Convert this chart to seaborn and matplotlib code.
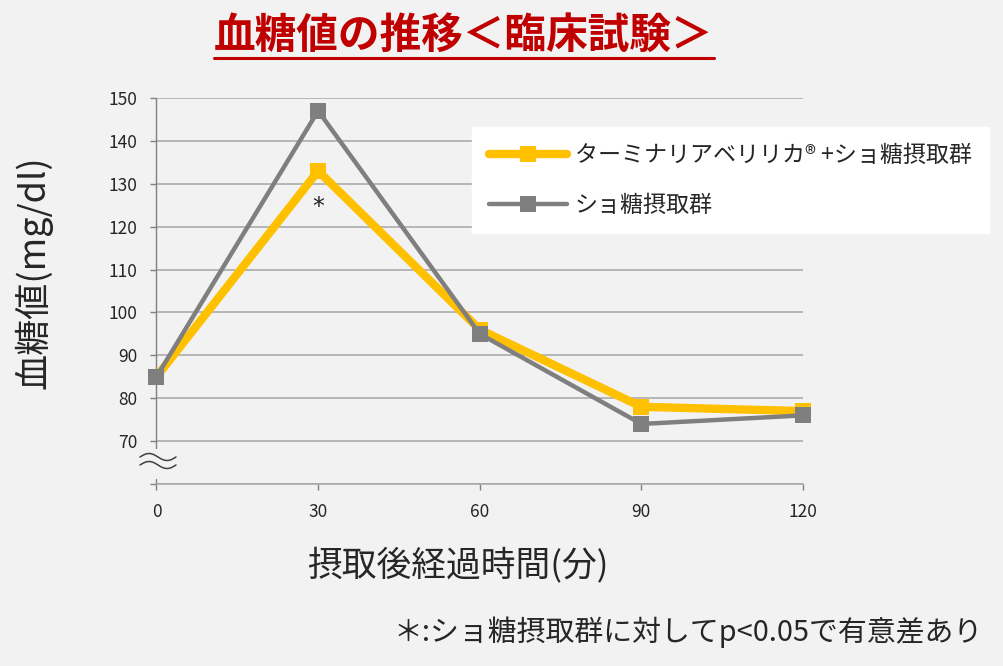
import numpy as np
import pandas as pd
import matplotlib
matplotlib.use("Agg")
import matplotlib.pyplot as plt
from matplotlib.lines import Line2D
import seaborn as sns

# data
times = [0, 30, 60, 90, 120]
terminalia = [85, 133, 96, 78, 77]
sucrose = [85, 147, 95, 74, 76]
yticks = [60, 70, 80, 90, 100, 110, 120, 130, 140, 150]
ytick_labels = ["", "70", "80", "90", "100", "110", "120", "130", "140", "150"]
label_terminalia = "ターミナリアベリリカ® +ショ糖摂取群"
label_sucrose = "ショ糖摂取群"

W, H = 1004, 666
BG = "#f2f2f2"
YELLOW = "#ffc000"
GRAY = "#7f7f7f"

sns.set_style("white")
plt.rcParams["font.family"] = ["Noto Sans CJK JP", "DejaVu Sans"]

fig = plt.figure(figsize=(W / 100, H / 100), dpi=100, facecolor=BG)
x0, x1, y0, y1 = 156.5, 803, 98, 484
ax = fig.add_axes([x0 / W, 1 - y1 / H, (x1 - x0) / W, (y1 - y0) / H])
ax.set_facecolor(BG)

df = pd.DataFrame({"time": times, "terminalia": terminalia, "sucrose": sucrose})
sns.lineplot(data=df, x="time", y="terminalia", ax=ax, color=YELLOW, linewidth=6,
             marker="s", markersize=12, markeredgewidth=0, label=label_terminalia,
             clip_on=False, zorder=3)
sns.lineplot(data=df, x="time", y="sucrose", ax=ax, color=GRAY, linewidth=3.2,
             marker="s", markersize=12, markeredgewidth=0, label=label_sucrose,
             clip_on=False, zorder=4)

ax.set_xlim(0, 120)
ax.set_ylim(60, 150)
ax.set_xticks(times)
ax.set_yticks(yticks)
ax.set_yticklabels(ytick_labels)
ax.set_xlabel("")
ax.set_ylabel("")
ax.grid(axis="y", color="#a6a6a6", linewidth=1.1)
ax.tick_params(axis="both", length=4.5, width=1, color="#808080", labelsize=12.5,
               pad=9, left=True, bottom=True)
for s in ["top", "right", "left"]:
    ax.spines[s].set_visible(False)
ax.spines["bottom"].set_color("#a6a6a6")
ax.spines["bottom"].set_linewidth(1.1)

# left spine with an axis break below 70
ytr = ax.get_yaxis_transform()
ax.add_line(Line2D([0, 0], [68.4, 150], transform=ytr, color="#808080", lw=1,
                   clip_on=False))
ax.add_line(Line2D([0, 0], [60, 61.2], transform=ytr, color="#808080", lw=1,
                   clip_on=False))
xs = np.linspace(140, 176, 60)
for yc in (457, 465):
    ys = yc - 3.5 * np.sin(2 * np.pi * (xs - 140) / 36)
    fig.add_artist(Line2D(xs / W, 1 - ys / H, transform=fig.transFigure,
                          color="#404040", lw=1.1))

# significance mark under the 30 min point
ax.annotate("*", xy=(times[1], terminalia[1]), xytext=(0, -26),
            textcoords="offset points", ha="center", va="center", fontsize=17,
            family=["DejaVu Sans"], color="#222222")

leg = ax.legend(loc="upper left", bbox_to_anchor=(472 / W, 1 - 127 / H),
                bbox_transform=fig.transFigure, frameon=True, fancybox=False,
                fontsize=16.6, handlelength=3.4, handletextpad=0.35,
                labelspacing=1.17, borderpad=0.72, borderaxespad=0)
leg.get_frame().set_facecolor("white")
leg.get_frame().set_edgecolor("white")
leg.get_frame().set_alpha(1)

# texts around the chart
title = fig.text(464 / W, 1 - 36 / H, "血糖値の推移＜臨床試験＞", ha="center",
                 va="center", fontsize=30, fontweight="bold", color="#c00000")
fig.text(33 / W, 1 - 272 / H, "血糖値(mg/dl)", rotation=90, ha="center",
         va="center", fontsize=26)
fig.text(458 / W, 1 - 566 / H, "摂取後経過時間(分)", ha="center", va="center",
         fontsize=25)
fig.text(983 / W, 1 - 632 / H, "＊:ショ糖摂取群に対してp<0.05で有意差あり",
         ha="right", va="center", fontsize=20.8)

# underline for the title
fig.canvas.draw()
bb = title.get_window_extent()
uy = 1 - 58 / H
fig.add_artist(Line2D([bb.x0 / W, bb.x1 / W], [uy, uy], transform=fig.transFigure,
                      color="#c00000", lw=2.2))

fig.savefig("out.png", dpi=100, facecolor=BG)
